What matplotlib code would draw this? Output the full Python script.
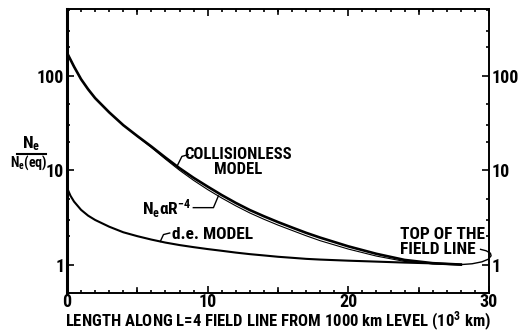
import numpy as np
import matplotlib
matplotlib.use("Agg")
import matplotlib.pyplot as plt
from matplotlib.ticker import FixedLocator, NullFormatter
from matplotlib.lines import Line2D

plt.rcParams['font.family'] = ['Roboto Condensed', 'DejaVu Sans']
plt.rcParams['font.weight'] = 'bold'
plt.rcParams['mathtext.fontset'] = 'custom'
plt.rcParams['mathtext.rm'] = 'Roboto Condensed:bold'
plt.rcParams['mathtext.bf'] = 'Roboto Condensed:bold'
plt.rcParams['mathtext.it'] = 'Roboto Condensed:bold'
plt.rcParams['mathtext.default'] = 'bf'

# distance along the L=4 field line (10^3 km) and normalised electron density
dist = [0, 0.25, 0.5, 1, 1.5, 2, 3, 4, 5, 6, 7, 8, 9, 10, 11, 12, 13,
        14, 15, 16, 17, 18, 20, 22, 24, 26, 28]
collisionless = [175, 148, 125, 92, 72, 58, 41, 30, 23, 17.8, 13.6, 10.5, 8.3,
                 6.7, 5.45, 4.5, 3.78, 3.25, 2.82, 2.47, 2.17, 1.93, 1.56,
                 1.3, 1.12, 1.035, 1.0]
ne_r4 = [175, 148, 125, 92, 72, 58, 41, 30, 22.8, 17.4, 13.1, 9.98, 7.8,
         6.23, 5.07, 4.19, 3.52, 3.02, 2.62, 2.3, 2.02, 1.79, 1.46, 1.23,
         1.08, 1.02, 1.0]
de_model = [6.5, 5.35, 4.65, 3.8, 3.3, 2.97, 2.52, 2.2, 2.0, 1.84, 1.71, 1.61,
            1.53, 1.46, 1.4, 1.34, 1.29, 1.25, 1.21, 1.18, 1.15, 1.13, 1.1,
            1.075, 1.05, 1.03, 1.0]

xticks = [0, 10, 20, 30]
xtick_labels = ['0', '10', '20', '30']
yticks = [1, 10, 100]
ytick_labels = ['1', '10', '100']

W, H = 518, 332
fig = plt.figure(figsize=(W / 100, H / 100), dpi=100)
ax = fig.add_axes([67 / W, 1 - 293 / H, (489 - 67) / W, (293 - 9) / H])

ax.plot(dist, ne_r4, color='black', lw=0.8)
ax.plot(dist, collisionless, color='black', lw=1.9)
ax.plot(dist, de_model, color='black', lw=1.5)

ax.set_yscale('log')
ax.set_xlim(0, 30)
ax.set_ylim(0.5, 510)

# ticks inside on all four sides, labels repeated on the right
ax.set_xticks(xticks)
ax.set_xticklabels(xtick_labels, fontsize=13)
ax.xaxis.set_minor_locator(FixedLocator(np.arange(0, 31, 1)))
ax.set_yticks(yticks)
ax.set_yticklabels(ytick_labels, fontsize=13)
minor_y = [m * 10.0 ** e for e in (-1, 0, 1, 2) for m in (2, 3, 5)]
ax.yaxis.set_minor_locator(FixedLocator(minor_y))
ax.yaxis.set_minor_formatter(NullFormatter())
ax.tick_params(which='both', direction='in', top=True, right=True,
               labelright=True, width=1.2, pad=2)
ax.tick_params(which='major', length=5)
ax.tick_params(which='minor', length=2.5)
ax.tick_params(axis='x', pad=0)
for fives in (5, 15, 25):
    ax.axvline(fives, ymin=0, ymax=0.018, color='black', lw=1.2)
    ax.axvline(fives, ymin=0.982, ymax=1, color='black', lw=1.2)

for side, sp in ax.spines.items():
    sp.set_linewidth(2.2 if side == 'left' else 1.4)

ax.set_xlabel('LENGTH ALONG L=4 FIELD LINE FROM 1000 km LEVEL (10$^3$ km)',
              fontsize=12, fontweight='bold', labelpad=-1)

# y-axis label drawn as a stacked fraction
fig.text(31 / W, 1 - 144 / H, 'N$_e$', ha='center', va='center', fontsize=12.5)
fig.add_artist(Line2D([17 / W, 46 / W], [1 - 154 / H, 1 - 154 / H],
                      color='black', lw=1.5))
fig.text(29 / W, 1 - 163 / H, 'N$_e$(eq)', ha='center', va='center',
         fontsize=10)

# curve labels with leader lines
log_c = np.log10(collisionless)
log_r = np.log10(ne_r4)
log_d = np.log10(de_model)

x0 = 7.82
ax.plot([x0, 8.17, 8.62], [10 ** np.interp(x0, dist, log_c), 14.0, 14.6],
        color='black', lw=1.0)
ax.text(12.15, 12.3, 'COLLISIONLESS\nMODEL', ha='center', va='center',
        fontsize=12, linespacing=1.0)

x1 = 10.76
ax.plot([8.98, 10.41, x1], [4.01, 4.01, 10 ** np.interp(x1, dist, log_r)],
        color='black', lw=1.0)
ax.text(8.8, 3.9, 'N$_e$αR$^{-4}$', ha='right', va='center', fontsize=12.5)

x2 = 6.63
ax.plot([x2, 6.86, 7.3], [10 ** np.interp(x2, dist, log_d), 2.08, 2.16],
        color='black', lw=1.0)
ax.text(7.5, 2.1, 'd.e. MODEL', ha='left', va='center', fontsize=12.5)

ax.text(23.7, 1.72, 'TOP OF THE\nFIELD LINE', ha='left', va='center',
        fontsize=12.5, linespacing=1.0)
loop_x = [29.4, 29.8, 30.1, 30.15, 29.95, 29.5, 28.8, 28.0]
loop_y = [1.45, 1.4, 1.32, 1.24, 1.14, 1.07, 1.02, 1.0]
ax.plot(loop_x, loop_y, color='black', lw=1.0, clip_on=False)

fig.savefig('out.png', dpi=100)
